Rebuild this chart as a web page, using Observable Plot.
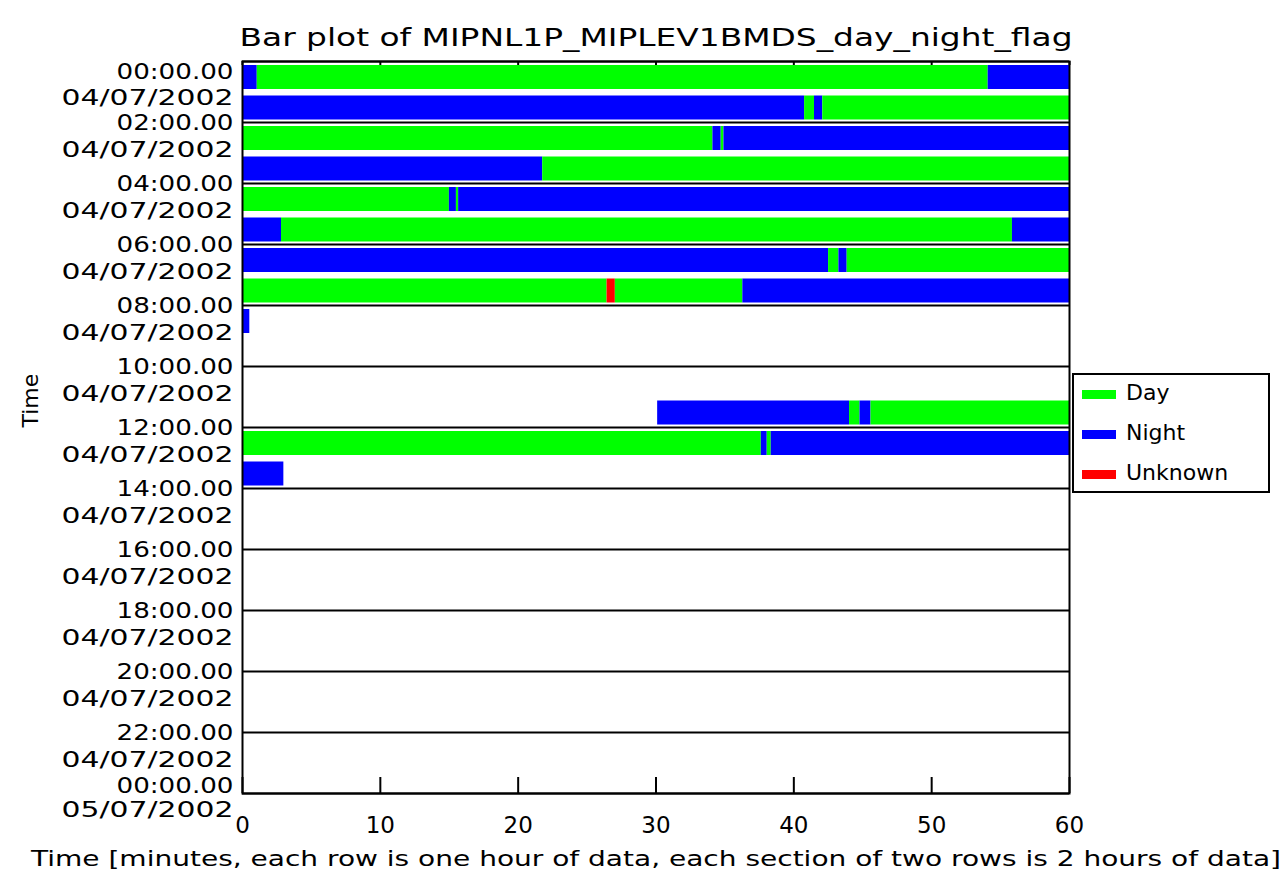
<!DOCTYPE html>
<html>
<head>
<meta charset="utf-8">
<script src="https://cdn.jsdelivr.net/npm/d3@7"></script>
<script src="https://cdn.jsdelivr.net/npm/@observablehq/plot@0.6"></script>
<style>
  html, body { margin: 0; padding: 0; background: #fff; }
  #wrap { position: relative; width: 1284px; height: 877px; }
  #legend { position: absolute; left: 1072px; top: 373px; width: 194px; height: 116px;
            border: 2px solid #000; background: #fff; font-family: "DejaVu Sans", sans-serif; }
  .item { position: absolute; left: 0; height: 30px; }
  .sw { position: absolute; left: 8px; width: 34px; height: 9px; }
  .lab { position: absolute; left: 52px; font-size: 22px; line-height: 24px; top: -13px; white-space: nowrap; }
</style>
</head>
<body>
<div id="wrap"><div id="chart"></div><div id="legend"></div></div>
<script>
// ---- data ----
const flagNames = ["Day", "Night", "Unknown"];
const flagColors = ["#00ff00", "#0000ff", "#ff0000"];

// one entry per bar segment: hour row, start minute, end minute, flag
const segHour  = [0,0,0, 1,1,1,1, 2,2,2,2, 3,3, 4,4,4,4, 5,5,5, 6,6,6,6, 7,7,7,7, 8, 11,11,11,11, 12,12,12,12, 13];
const segStart = [0,1.07,54.1, 0,40.78,41.5,42.1, 0,34.13,34.73,34.93, 0,21.78, 0,15.01,15.52,15.68, 0,2.83,55.86, 0,42.52,43.27,43.87, 0,26.45,27.05,36.3, 0, 30.12,44.04,44.8,45.6, 0,37.64,38.07,38.36, 0];
const segEnd   = [1.07,54.1,60, 40.78,41.5,42.1,60, 34.13,34.73,34.93,60, 21.78,60, 15.01,15.52,15.68,60, 2.83,55.86,60, 42.52,43.27,43.87,60, 26.45,27.05,36.3,60, 0.53, 44.04,44.8,45.6,60, 37.64,38.07,38.36,60, 3.0];
const segFlag  = ["Night","Day","Night", "Night","Day","Night","Day", "Day","Night","Day","Night", "Night","Day", "Day","Night","Day","Night", "Night","Day","Night", "Night","Day","Night","Day", "Day","Unknown","Day","Night", "Night", "Night","Day","Night","Day", "Day","Night","Day","Night", "Night"];

const sectionHours = [0,2,4,6,8,10,12,14,16,18,20,22,24];
const timeLabels = ["00:00.00","02:00.00","04:00.00","06:00.00","08:00.00","10:00.00","12:00.00","14:00.00","16:00.00","18:00.00","20:00.00","22:00.00","00:00.00"];
const dateLabels = ["04/07/2002","04/07/2002","04/07/2002","04/07/2002","04/07/2002","04/07/2002","04/07/2002","04/07/2002","04/07/2002","04/07/2002","04/07/2002","04/07/2002","05/07/2002"];
const xTicks = [0,10,20,30,40,50,60];

const titleText = "Bar plot of MIPNL1P_MIPLEV1BMDS_day_night_flag";
const xTitle = "Time [minutes, each row is one hour of data, each section of two rows is 2 hours of data]";
const yTitle = "Time";

// ---- build ----
const segs = segHour.map((h, i) => ({h0: h, h1: h + 1, x1: segStart[i], x2: segEnd[i], flag: segFlag[i]}));
const labels = sectionHours.map((h, i) => ({h, time: timeLabels[i], date: dateLabels[i], i}));
const midLabels = labels.filter(d => d.i > 0 && d.i < labels.length - 1);
const firstLabel = labels.filter(d => d.i === 0);
const lastLabel = labels.filter(d => d.i === labels.length - 1);

const W = 1284, H = 877;
const mL = 242, mR = W - 1069, mT = 61, mB = H - 793;
const plotH = H - mT - mB;
const fontY = 22;

const ylab = (data, dyT, dyD) => [
  Plot.text(data, {x: 0, y: "h", text: "time", textAnchor: "end", dx: -9, dy: dyT, fontSize: fontY, className: "ytime"}),
  Plot.text(data, {x: 0, y: "h", text: "date", textAnchor: "end", dx: -9, dy: dyD, fontSize: fontY, className: "ydate"})
];

const chart = Plot.plot({
  width: W, height: H,
  marginLeft: mL, marginRight: mR, marginTop: mT, marginBottom: mB,
  style: {fontFamily: "DejaVu Sans, sans-serif", color: "#000", background: "#fff"},
  x: {domain: [0, 60]},
  y: {domain: [0, 24], reverse: true, axis: null},
  color: {domain: flagNames, range: flagColors},
  marks: [
    Plot.rect(segs, {x1: "x1", x2: "x2", y1: "h0", y2: "h1", fill: "flag", insetTop: 4, insetBottom: 2.5}),
    Plot.ruleY(sectionHours, {stroke: "#000", strokeWidth: 2}),
    Plot.frame({stroke: "#000", strokeWidth: 2}),
    Plot.ruleX(xTicks, {stroke: "#000", strokeWidth: 2, insetTop: plotH - 16}),
    Plot.ruleX(xTicks, {stroke: "#000", strokeWidth: 2, insetBottom: plotH - 4}),
    Plot.axisX(xTicks, {anchor: "bottom", tickSize: 0, tickPadding: 23, fontSize: 23, label: null, tickFormat: d => String(d)}),
    ...ylab(midLabels, 0, 27),
    ...ylab(firstLabel, 10, 36),
    ...ylab(lastLabel, -8, 16),
    Plot.text([titleText], {frameAnchor: "top", text: d => d, dy: -23, lineAnchor: "middle", fontSize: 24, className: "ttl"}),
    Plot.text([xTitle], {frameAnchor: "bottom", text: d => d, dy: 65, lineAnchor: "middle", fontSize: 22, className: "xttl"}),
    Plot.text([yTitle], {frameAnchor: "left", text: d => d, dx: -212, rotate: -90, lineAnchor: "middle", fontSize: 22, className: "yttl"})
  ]
});
document.getElementById("chart").appendChild(chart);

// stretch the texts to the widths seen in the reference (font is wider there)
const svg = d3.select(chart);
svg.selectAll(".ytime text").attr("textLength", 117).attr("lengthAdjust", "spacingAndGlyphs");
svg.selectAll(".ydate text").attr("textLength", 172).attr("lengthAdjust", "spacingAndGlyphs");
svg.selectAll(".ttl text").attr("textLength", 833).attr("lengthAdjust", "spacingAndGlyphs");
svg.selectAll(".xttl text").attr("textLength", 1250).attr("lengthAdjust", "spacingAndGlyphs");

// legend
const leg = document.getElementById("legend");
flagNames.forEach((n, i) => {
  const it = document.createElement("div");
  it.className = "item";
  it.style.top = (19 + 40 * i) + "px";
  it.innerHTML = `<div class="sw" style="background:${flagColors[i]};top:-4px"></div><div class="lab">${n}</div>`;
  leg.appendChild(it);
});
</script>
</body>
</html>
